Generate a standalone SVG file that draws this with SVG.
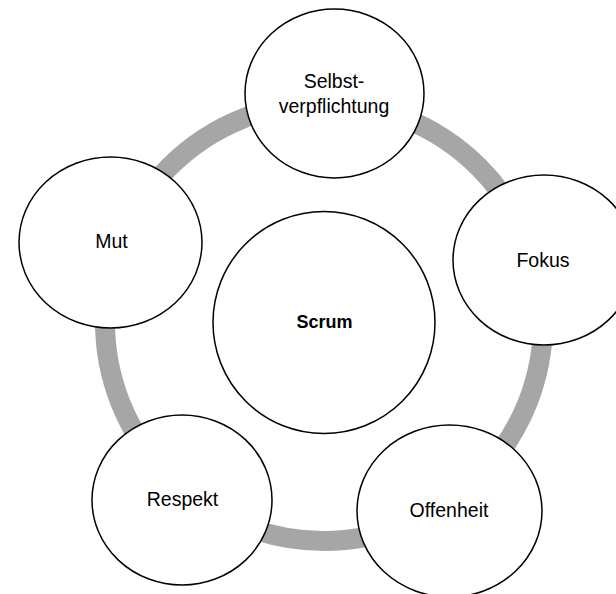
<svg xmlns="http://www.w3.org/2000/svg" width="616" height="594" viewBox="0 0 616 594">
  <style>
    .node { fill: #ffffff; stroke: #000000; stroke-width: 1.5; }
    .label { font-family: "Liberation Sans", Arial, sans-serif; font-size: 19.5px; fill: #000000; text-anchor: middle; }
    .core { font-weight: bold; font-size: 18px; }
    .ring { fill: none; stroke: #a6a6a6; stroke-width: 20; }
  </style>
  <rect width="616" height="594" fill="#ffffff"/>

  <!-- cycle ring linking the values -->
  <g id="connectors">
    <circle class="ring" cx="324" cy="322" r="219"/>
  </g>

  <g id="scrum">
    <circle class="node" cx="324" cy="322.5" r="111"/>
    <text class="label core" x="324.5" y="328">Scrum</text>
  </g>

  <g id="selbstverpflichtung">
    <ellipse class="node" cx="334.5" cy="93.5" rx="89.5" ry="84.5"/>
    <text class="label" x="334" y="88">Selbst-</text>
    <text class="label" x="334" y="113">verpflichtung</text>
  </g>

  <g id="fokus">
    <ellipse class="node" cx="544" cy="260" rx="91" ry="85"/>
    <text class="label" x="543" y="267">Fokus</text>
  </g>

  <g id="offenheit">
    <ellipse class="node" cx="449.5" cy="511" rx="92.5" ry="86"/>
    <text class="label" x="449" y="517">Offenheit</text>
  </g>

  <g id="respekt">
    <ellipse class="node" cx="182" cy="500" rx="90" ry="85"/>
    <text class="label" x="182.5" y="506">Respekt</text>
  </g>

  <g id="mut">
    <ellipse class="node" cx="110.5" cy="242.5" rx="91.5" ry="85.5"/>
    <text class="label" x="111.5" y="248">Mut</text>
  </g>
</svg>
